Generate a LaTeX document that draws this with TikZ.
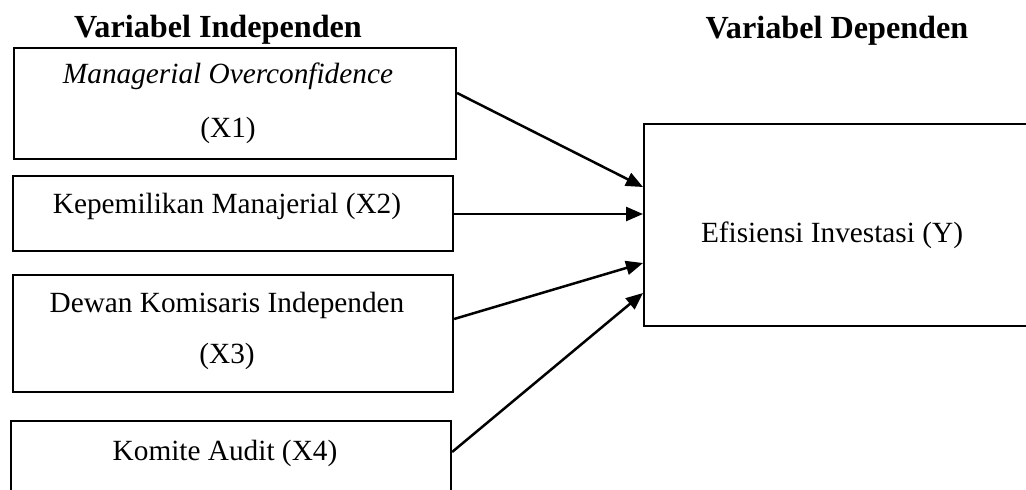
\documentclass[tikz,border=0pt]{standalone}
\usepackage{fontspec}
\setmainfont{Liberation Serif}
\usetikzlibrary{arrows.meta}
\begin{document}
\begin{tikzpicture}[x=1pt,y=-1pt,
  box/.style={draw=black, line width=2.1pt, anchor=north west, inner sep=0pt},
  lbl/.style={anchor=base, inner sep=0pt, font=\fontsize{29.3}{34}\selectfont},
  ttl/.style={anchor=base, inner sep=0pt, font=\fontsize{32.2}{38}\selectfont\bfseries},
  arr/.style={line width=2.5pt, -{Triangle[length=17pt,width=14pt]}}]
\clip (0,0) rectangle (1026,490);
% titles
\node[ttl] (t1) at (218,37) {Variabel Independen};
\node[ttl] (t2) at (837,38) {Variabel Dependen};
% boxes
\node[box, minimum width=442pt, minimum height=111pt] (b1) at (13,47) {};
\node[box, minimum width=440pt, minimum height=75pt] (b2) at (12,175) {};
\node[box, minimum width=440pt, minimum height=117pt] (b3) at (12,274) {};
\node[box, minimum width=440pt, minimum height=100pt] (b4) at (10,420) {};
\node[box, minimum width=420pt, minimum height=202pt] (y) at (643,123) {};
% labels
\node[lbl] (l1a) at (228,83) {\itshape Managerial Overconfidence};
\node[lbl] (l1b) at (228,137) {(X1)};
\node[lbl] (l2) at (227,213) {Kepemilikan Manajerial (X2)};
\node[lbl] (l3a) at (227,312) {Dewan Komisaris Independen};
\node[lbl] (l3b) at (227,363) {(X3)};
\node[lbl] (l4) at (225,460) {Komite Audit (X4)};
\node[lbl] (ly) at (832,242) {Efisiensi Investasi (Y)};
% arrows
\draw[arr] (b1.east |- 0,93) -- (y.west |- 0,187);
\draw[arr] (b2.east |- 0,214) -- (y.west |- 0,214);
\draw[arr] (b3.east |- 0,319) -- (y.west |- 0,263);
\draw[arr] (b4.east |- 0,452) -- (y.west |- 0,293);
\end{tikzpicture}
\end{document}
